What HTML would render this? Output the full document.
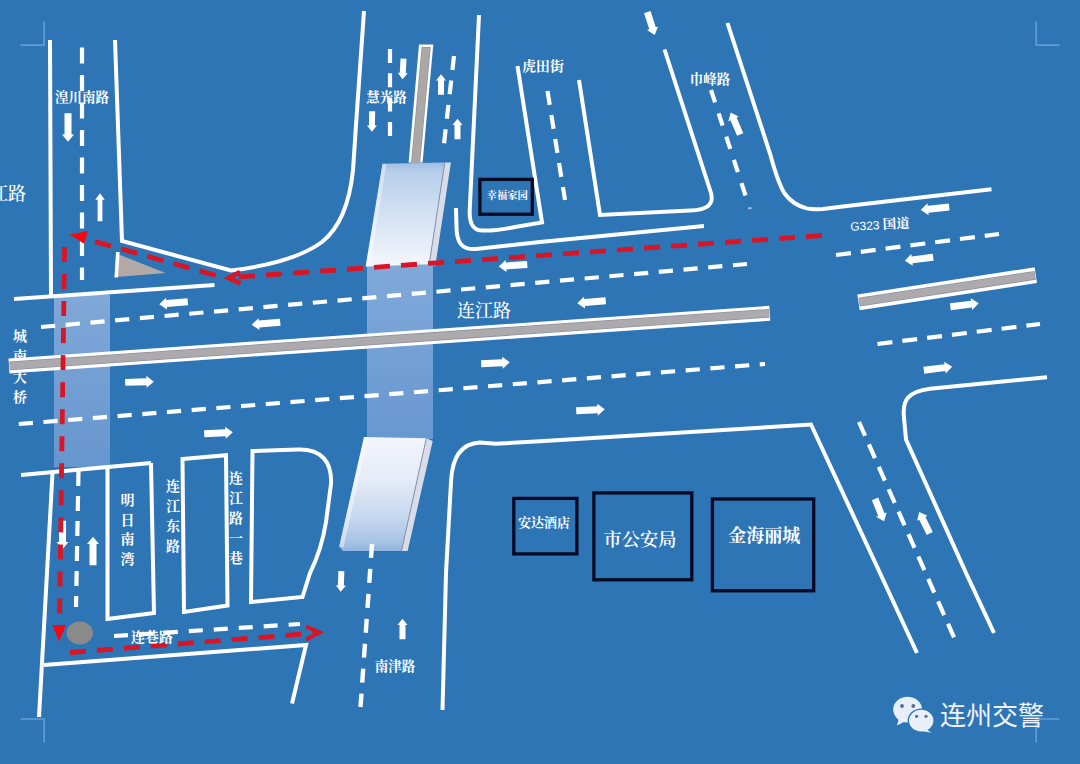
<!DOCTYPE html>
<html lang="zh-CN">
<head>
<meta charset="utf-8">
<title>连州交警 交通示意图</title>
<style>
html,body{margin:0;padding:0;}
body{width:1080px;height:764px;overflow:hidden;background:#2e75b6;position:relative;}
#map{position:absolute;left:0;top:0;width:1080px;height:764px;display:block;}
.t{position:absolute;color:#fff;white-space:nowrap;line-height:1;transform:translate(-50%,-50%);
   font-family:"Liberation Serif","Noto Serif CJK SC",serif;font-weight:700;font-size:13.5px;}
.v{writing-mode:vertical-rl;text-orientation:upright;}
.wm{font-family:"Liberation Sans","Noto Sans CJK SC",sans-serif;font-weight:400;font-size:26px;color:#eef3fa;}
</style>
</head>
<body>
<svg id="map" width="1080" height="764" viewBox="0 0 1080 764">
<defs>
  <path id="ar" d="M-14.3,-3.5 H7 V-6 L14.3,0 L7,6 V3.5 H-14.3 Z"/>
  <path id="as" d="M-10.3,-3 H4 V-5 L10.3,0 L4,5 V3 H-10.3 Z"/>
  <path id="an" d="M-14,-2.4 H7.5 V-4.8 L14,0 L7.5,4.8 V2.4 H-14 Z"/>
  <path id="am" d="M-12,-3.4 H5 V-5.8 L12,0 L5,5.8 V3.4 H-12 Z"/>
  <linearGradient id="gA" x1="0" y1="0" x2="0" y2="1">
    <stop offset="0" stop-color="#80a8d8"/><stop offset="1" stop-color="#6696ce"/>
  </linearGradient>
  <linearGradient id="gB" x1="0" y1="0" x2="0" y2="1">
    <stop offset="0" stop-color="#80a9da"/><stop offset="1" stop-color="#6898d0"/>
  </linearGradient>
  <linearGradient id="gT" x1="0" y1="0" x2="0" y2="1">
    <stop offset="0" stop-color="#a0bde2"/><stop offset="0.1" stop-color="#b8cfeb"/><stop offset="0.5" stop-color="#d4e1f3"/><stop offset="1" stop-color="#f4f6fc"/>
  </linearGradient>
  <linearGradient id="gU" x1="0" y1="0" x2="0" y2="1">
    <stop offset="0" stop-color="#f4f5fc"/><stop offset="0.4" stop-color="#e3eaf7"/><stop offset="0.72" stop-color="#c4d6ee"/><stop offset="0.92" stop-color="#a7c3e6"/><stop offset="1" stop-color="#8fb4e1"/>
  </linearGradient>
</defs>
<rect width="1080" height="764" fill="#2e75b6"/>

<!-- crossing bands -->
<g id="bands">
  <rect x="54" y="295" width="56" height="172" fill="url(#gA)"/>
  <rect x="367" y="264" width="66" height="175" fill="url(#gB)"/>
</g>

<!-- white kerb lines -->
<g id="kerbs" fill="none" stroke="#fff" stroke-width="4" stroke-linejoin="miter" stroke-linecap="butt">
  <path d="M50,40 L51,296"/>
  <path d="M115,40 L122,241 L231,270.5 C268,266 300,258 322,242 C342,226 350,200 353,170 L356,125 L364,11"/>
  <path d="M14,299 L214.5,285"/>
  <path d="M479,15 L469.8,208 C469,222 472,230 482,230.5 C495,231 505,229 515,227 L542,222.4 L517.5,66"/>
  <path d="M456,208 L456.5,228 C457,243 462,250 476,249 L540,242 L704,226"/>
  <path d="M579,80 L600,215 L690,210.5 C708,210 714,204 711,193 L664.5,49.5"/>
  <path d="M727.5,23 L770.4,154.8 C775,172 780,186 784.4,193.3 C790,201 797,206 806.7,208.4 C812,209.5 818,209.3 823,208.9 L840.7,206.7 L991.5,189.3"/>
  <path d="M1047,377.2 L930,388.7 C908,391.5 902,400 904,418 L906,439.5 L966,573 L994,633"/>
  <path d="M442.5,710 L446,573 L451,482 C452,457 461,443.6 480,442.6 L496,443.7 L540,441.3 L811,424.5 L880,573 L917,653"/>
  <path d="M21,475 L151,463"/>
  <path d="M52.5,473 L39,717"/>
  <path d="M107.5,467 L107.5,619 L154,613 L151,463"/>
  <path d="M182.5,459 L226,455.3 L227.5,605.5 L184,612 Z"/>
  <path d="M252.5,451 L298,449.5 C322,449 332,462 331,484 L326,522 C322,547 314,565 310,573 L302.5,597 L251,602 Z"/>
  <path d="M44,665 L306,645 L292,703.5"/>
</g>

<!-- lane dashes -->
<g id="dashes" fill="none" stroke="#fff" stroke-width="4.2">
  <path d="M82,47.5 L82,280" stroke-dasharray="16 11.5"/>
  <path d="M390,49 L390,136" stroke-dasharray="14 10.3"/>
  <path d="M454,56 L444,144" stroke-dasharray="14 10.6"/>
  <path d="M547.5,91 L565,200" stroke-dasharray="14 10.3"/>
  <path d="M711,90 L746,197" stroke-dasharray="13 11.5"/>
  <path d="M41,327 L747,264" stroke-dasharray="14.2 10.61"/>
  <path d="M18.75,424 L765,364" stroke-dasharray="14.2 10.58"/>
  <path d="M836,255 L999,234" stroke-dasharray="15 10"/>
  <path d="M877.5,344 L1040,324" stroke-dasharray="15 10"/>
  <path d="M78.5,471 L76,607" stroke-dasharray="15 10"/>
  <path d="M114,636 L300,624" stroke-dasharray="14 11"/>
  <path d="M859,422 L954.5,638.5" stroke-dasharray="15 9.5"/>
</g>

<text id="bridge-name" x="18.5" y="328.3" fill="#fff" font-family="'Liberation Serif','Noto Serif CJK SC',serif" font-weight="700" font-size="14" style="writing-mode:vertical-rl;text-orientation:upright;letter-spacing:6.6px;">城南大桥</text>

<!-- medians -->
<g id="medians" fill="none">
  <path d="M9,365.9 L769.8,313.3" stroke="#fff" stroke-width="15"/>
  <path d="M9.6,365.86 L769.2,313.34" stroke="#8d929e" stroke-width="8.8"/>
  <path d="M10,365.83 L768.8,313.37" stroke="#adaaad" stroke-width="7.2"/>
  <path d="M858.5,302.3 L1035.8,275.2" stroke="#fff" stroke-width="16"/>
  <path d="M859.1,302.2 L1035.2,275.3" stroke="#8d929e" stroke-width="8.8"/>
  <path d="M859.5,302.15 L1034.8,275.35" stroke="#adaaad" stroke-width="7.2"/>
  <polygon points="419,44.6 433.3,44.6 422.6,162.5 408.6,162.5" fill="#fff"/>
  <polygon points="421.6,47 430.7,47 420.2,162.5 411.1,162.5" fill="#8d929e"/>
  <polygon points="422.3,47.8 430,47.8 419.5,162.5 411.8,162.5" fill="#aba7a5"/>
</g>

<!-- footbridge glass -->
<g id="bridge">
  <polygon points="444.8,162.4 450.9,162.4 435.3,266 429.2,264.2" fill="#d9ddea"/>
  <polygon points="382.5,163.8 444.8,162.4 429.2,264.2 365.7,266.4" fill="url(#gT)"/>
  <polygon points="382.5,163.8 386.5,163.7 369.8,266.3 365.7,266.4" fill="#ffffff" fill-opacity="0.4"/>
  <path d="M444.8,162.4 L429.2,264.2" stroke="#8893a8" stroke-width="1" fill="none"/>
  <polygon points="426.3,438.3 432.7,441 407.6,551 401.5,551" fill="#d9ddea"/>
  <polygon points="364,436.9 426.3,438.3 401.5,551 343,551 339.2,546.4" fill="url(#gU)"/>
  <polygon points="364,436.9 368,437 343.5,547.5 339.2,546.4" fill="#ffffff" fill-opacity="0.45"/>
  <path d="M426.3,438.3 L401.5,551" stroke="#8893a8" stroke-width="1" fill="none"/>
</g>

<path d="M372,544 L360.5,707" stroke="#fff" stroke-width="4.4" stroke-dasharray="14 11" fill="none"/>

<rect x="748" y="207.3" width="3.6" height="1.8" fill="#9cc6f0"/>

<!-- island -->
<g id="island">
  <polygon points="117.5,254 165.5,273 116.5,277" fill="#b3aaa8"/>
  <path d="M117.8,252 L116.2,277.5" stroke="#fff" stroke-width="3.6" fill="none"/>
  <ellipse cx="79.8" cy="633" rx="13.2" ry="11.4" fill="#8a8a8a"/>
</g>

<!-- direction arrows -->
<g id="arrows" fill="#fff">
  <use href="#ar" transform="translate(173.5,303) rotate(175)"/>
  <use href="#ar" transform="translate(266,323.5) rotate(175)"/>
  <use href="#ar" transform="translate(513,265.5) rotate(176)"/>
  <use href="#ar" transform="translate(591.5,302) rotate(175)"/>
  <use href="#ar" transform="translate(935,208.5) rotate(174)"/>
  <use href="#ar" transform="translate(919,259) rotate(173)"/>
  <use href="#ar" transform="translate(139.5,382) rotate(-1.5)"/>
  <use href="#ar" transform="translate(218.5,433) rotate(-3)"/>
  <use href="#ar" transform="translate(495.5,363) rotate(-3)"/>
  <use href="#ar" transform="translate(590.5,410) rotate(-3)"/>
  <use href="#ar" transform="translate(964.5,305) rotate(-7)"/>
  <use href="#ar" transform="translate(938,368.5) rotate(-7)"/>
  <use href="#ar" transform="translate(68,127.5) rotate(90)"/>
  <use href="#an" transform="translate(100,207.3) rotate(-90)"/>
  <use href="#as" transform="translate(403,69) rotate(93)"/>
  <use href="#as" transform="translate(372,121.5) rotate(91)"/>
  <use href="#as" transform="translate(441,84.5) rotate(-90)"/>
  <use href="#as" transform="translate(457.5,129) rotate(-90)"/>
  <use href="#am" transform="translate(651,23.5) rotate(72)"/>
  <use href="#am" transform="translate(735.5,123.5) rotate(-113)"/>
  <use href="#ar" transform="translate(62.5,535) rotate(90)"/>
  <use href="#ar" transform="translate(93,551) rotate(-90)"/>
  <use href="#as" transform="translate(341,581.5) rotate(92)"/>
  <use href="#as" transform="translate(402.5,629) rotate(-90)"/>
  <use href="#am" transform="translate(879.5,510) rotate(68)"/>
  <use href="#am" transform="translate(924.5,522.75) rotate(-116)"/>
</g>

<!-- detour route -->
<g id="route" fill="none" stroke="#d91424" stroke-width="4.8">
  <path d="M822,235.5 L232,277.4" stroke-dasharray="16 11.07"/>
  <path d="M240,272 L228.5,278 L240.5,283.6" stroke-width="4.6"/>
  <path d="M215.5,275.3 L95,241.6" stroke-dasharray="16.6 10.5"/>
  <polygon points="69.5,234.6 88,231 84,243.8" fill="#f20a12" stroke="none"/>
  <path d="M64.6,247 L59.6,613.5" stroke-dasharray="15 12.04"/>
  <polygon points="52.3,625 66,625 59,641.5" fill="#f20a12" stroke="none"/>
  <path d="M70,652.5 L314,633.2" stroke-dasharray="16 11"/>
  <path d="M306,626.5 L319.5,632.5 L306,639.5" stroke-width="4"/>
</g>

<!-- buildings -->
<g id="buildings" fill="none" stroke="#050a24" stroke-width="3.3">
  <rect x="479.9" y="179.4" width="52.4" height="34.8"/>
  <rect x="513.8" y="498.4" width="63.1" height="55.5"/>
  <rect x="593.9" y="492.9" width="97.9" height="86.9"/>
  <rect x="712.4" y="499" width="101.3" height="91.8"/>
</g>

<!-- page corner marks -->
<g id="marks" fill="none" stroke="#609dd8" stroke-width="1.7">
  <path d="M44.2,21.5 V45.2 H20.5"/>
  <path d="M1036.2,21.5 V45.2 H1059.5"/>
  <path d="M20.5,719 H44.2 V742.5"/>
  <path d="M1059.5,719 H1036.2 V742.5"/>
</g>

<!-- wechat -->
<g id="wechat">
  <ellipse cx="907.6" cy="709.6" rx="14.4" ry="12.8" fill="#e9eff9"/>
  <polygon points="899,718 897,725.5 907,720.5" fill="#e9eff9"/>
  <ellipse cx="921.2" cy="720.6" rx="13.6" ry="12.2" fill="#2e75b6"/>
  <ellipse cx="921.2" cy="720.6" rx="12.2" ry="10.8" fill="#e9eff9"/>
  <polygon points="926,729 931.5,732.8 921,731" fill="#e9eff9"/>
  <circle cx="902" cy="706" r="1.9" fill="#4d6f98"/>
  <circle cx="913.3" cy="706" r="1.9" fill="#4d6f98"/>
  <circle cx="916.6" cy="716.3" r="1.6" fill="#4d6f98"/>
  <circle cx="926" cy="716.3" r="1.6" fill="#4d6f98"/>
</g>
</svg>

<div class="t" style="left:82px;top:98px;">湟川南路</div>
<div class="t" style="left:386.5px;top:98px;">慧光路</div>
<div class="t" style="left:543px;top:67px;font-size:13.8px;">虎田街</div>
<div class="t" style="left:710px;top:80px;">巾峰路</div>
<div class="t" style="left:880px;top:225px;transform:translate(-50%,-50%) rotate(-3deg);"><span style="font-family:'Liberation Sans',sans-serif;font-weight:400;font-size:12px;">G323 </span>国道</div>
<div class="t" style="left:484px;top:310.5px;font-size:18px;font-weight:500;">连江路</div>
<div class="t" style="left:-1px;top:194px;font-size:18px;font-weight:500;">连江路</div>
<div class="t v" style="left:125.5px;top:532px;font-size:14px;font-weight:700;letter-spacing:5.8px;">明日南湾</div>
<div class="t v" style="left:171px;top:519px;font-size:14px;font-weight:700;letter-spacing:6px;">连江东路</div>
<div class="t v" style="left:234px;top:521px;font-size:14px;font-weight:700;letter-spacing:6px;">连江路一巷</div>
<div class="t" style="left:152px;top:638px;font-size:14px;">连巷路</div>
<div class="t" style="left:395px;top:667px;">南津路</div>
<div class="t" style="left:507.2px;top:196.2px;font-size:10.3px;">幸福家园</div>
<div class="t" style="left:544px;top:521.8px;font-size:13px;">安达酒店</div>
<div class="t" style="left:640px;top:540px;font-size:18.2px;font-weight:600;">市公安局</div>
<div class="t" style="left:764.3px;top:536px;font-size:18px;">金海丽城</div>
<div class="t wm" style="left:992px;top:715.5px;">连州交警</div>
</body>
</html>
